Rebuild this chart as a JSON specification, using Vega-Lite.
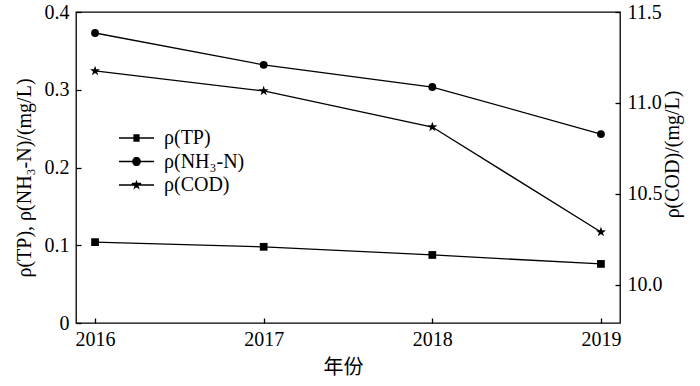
{
  "$schema": "https://vega.github.io/schema/vega-lite/v6.json",
  "width": 544,
  "height": 311,
  "autosize": {"type": "none"},
  "padding": {"left": 76, "top": 12, "right": 80, "bottom": 63},
  "background": "white",
  "config": {
    "view": {"stroke": "black", "strokeWidth": 1.3, "fill": "transparent"},
    "axis": {
      "zindex": 1,
      "domain": false,
      "ticks": true, "tickColor": "black", "tickWidth": 1.3, "tickSize": -5,
      "grid": false,
      "labelFont": "Liberation Serif", "labelFontSize": 20, "labelColor": "black",
      "titleFont": "Liberation Serif", "titleFontSize": 20, "titleFontWeight": "normal", "titleColor": "black"
    },
    "legend": {
      "labelFont": "Liberation Serif", "labelFontSize": 20, "labelColor": "black"
    }
  },
  "data": {
    "values": [
      {"year": 2016, "series": "TP", "value": 0.104},
      {"year": 2017, "series": "TP", "value": 0.098},
      {"year": 2018, "series": "TP", "value": 0.0875},
      {"year": 2019, "series": "TP", "value": 0.076},
      {"year": 2016, "series": "NH3-N", "value": 0.373},
      {"year": 2017, "series": "NH3-N", "value": 0.332},
      {"year": 2018, "series": "NH3-N", "value": 0.3035},
      {"year": 2019, "series": "NH3-N", "value": 0.243},
      {"year": 2016, "series": "COD", "value": 11.176},
      {"year": 2017, "series": "COD", "value": 11.066},
      {"year": 2018, "series": "COD", "value": 10.868},
      {"year": 2019, "series": "COD", "value": 10.291}
    ]
  },
  "encoding": {
    "x": {
      "field": "year", "type": "quantitative",
      "scale": {"domain": [2015.887, 2019.113], "nice": false, "zero": false},
      "axis": {
        "values": [2016, 2017, 2018, 2019], "format": "d",
        "tickSize": -5, "labelPadding": 11,
        "title": "年份", "titleFont": "Noto Sans CJK SC", "titleFontSize": 20,
        "titleX": 267, "titleY": 44, "titleBaseline": "middle"
      }
    }
  },
  "layer": [
    {
      "transform": [{"filter": "datum.series != 'COD'"}],
      "encoding": {
        "y": {
          "field": "value", "type": "quantitative",
          "scale": {"domain": [0, 0.4], "nice": false},
          "axis": {
            "orient": "left",
            "values": [0, 0.1, 0.2, 0.3, 0.4],
            "tickSize": -5, "labelPadding": 12,
            "labelExpr": "datum.value == 0 ? '0' : format(datum.value, '.1f')",
            "title": "ρ(TP), ρ(NH₃-N)/(mg/L)",
            "titleAngle": -90, "titleX": -51.5, "titleY": 165.5,
            "titleBaseline": "middle", "titleAlign": "center"
          }
        }
      },
      "layer": [
        {
          "mark": {"type": "line", "color": "black", "strokeWidth": 1.3},
          "encoding": {"detail": {"field": "series"}}
        },
        {
          "transform": [{"filter": "datum.series == 'TP'"}],
          "mark": {"type": "point", "shape": "square", "filled": true, "color": "black", "opacity": 1, "size": 60}
        },
        {
          "transform": [{"filter": "datum.series == 'NH3-N'"}],
          "mark": {"type": "point", "shape": "circle", "filled": true, "color": "black", "opacity": 1, "size": 62}
        }
      ]
    },
    {
      "transform": [{"filter": "datum.series == 'COD'"}],
      "encoding": {
        "y": {
          "field": "value", "type": "quantitative",
          "scale": {"domain": [9.791, 11.5], "nice": false, "zero": false},
          "axis": {
            "orient": "right",
            "values": [10, 10.5, 11, 11.5],
            "tickSize": -5, "labelPadding": 12,
            "format": ".1f",
            "title": "ρ(COD)/(mg/L)",
            "titleAngle": -90, "titleX": 52, "titleY": 142,
            "titleBaseline": "middle", "titleAlign": "center"
          }
        }
      },
      "layer": [
        {
          "mark": {"type": "line", "color": "black", "strokeWidth": 1.3},
          "encoding": {}
        },
        {
          "mark": {"type": "point", "shape": "M0,-1L0.235,-0.324L0.951,-0.309L0.38,0.124L0.588,0.809L0,0.4L-0.588,0.809L-0.38,0.124L-0.951,-0.309L-0.235,-0.324Z", "filled": true, "color": "black", "opacity": 1, "size": 110}
        }
      ]
    },
    {
      "transform": [{"filter": "datum.year < 0"}],
      "mark": {"type": "point", "filled": false, "color": "black", "strokeWidth": 1.3, "opacity": 1, "size": 100},
      "encoding": {
        "shape": {
          "field": "series", "type": "nominal",
          "scale": {
            "domain": ["TP", "NH3-N", "COD"],
            "range": [
              "M-3.5,0H3.5M-0.62,-0.6H0.62M-0.62,-0.4H0.62M-0.62,-0.2H0.62M-0.62,0.2H0.62M-0.62,0.4H0.62M-0.62,0.6H0.62",
              "M-3.5,0H3.5M-0.4,-0.75H0.4M-0.6,-0.6H0.6M-0.75,-0.4H0.75M-0.83,-0.2H0.83M-0.83,0.2H0.83M-0.75,0.4H0.75M-0.6,0.6H0.6M-0.4,0.75H0.4",
              "M-3.5,0H3.5M-0.07,-0.8H0.07M-0.14,-0.6H0.14M-0.21,-0.4H0.21M-0.94,-0.3H0.94M-0.81,-0.2H0.81M-0.4,0.2H0.4M-0.46,0.4H0.46M0.29,0.6H0.52M-0.52,0.6H-0.29M0.5,0.75H0.57M-0.57,0.75H-0.5"
            ]
          },
          "legend": {
            "title": null,
            "orient": "none", "legendX": 50.5, "legendY": 116,
            "padding": 0,
            "symbolSize": 100,
            "labelOffset": 17.5,
            "rowPadding": 3.5,
            "labelExpr": "'ρ(' + (datum.label == 'NH3-N' ? 'NH₃-N' : datum.label) + ')'"
          }
        }
      }
    }
  ],
  "resolve": {"scale": {"y": "independent"}}
}
